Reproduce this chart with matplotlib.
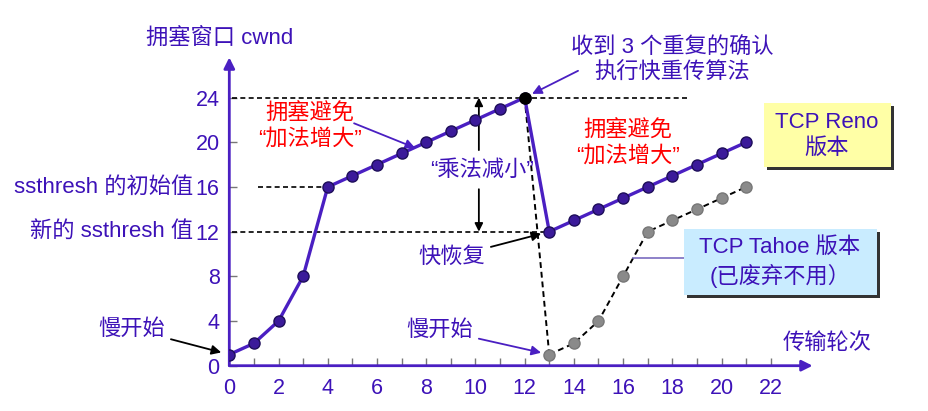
import matplotlib
matplotlib.use('Agg')
import matplotlib.pyplot as plt
from matplotlib.patches import Rectangle

plt.rcParams['font.family'] = ['Liberation Sans', 'Noto Sans CJK SC', 'DejaVu Sans']

# data
reno_x = [0, 1, 2, 3, 4, 5, 6, 7, 8, 9, 10, 11, 12, 13, 14, 15, 16, 17, 18, 19, 20, 21]
reno_y = [1, 2, 4, 8, 16, 17, 18, 19, 20, 21, 22, 23, 24, 12, 13, 14, 15, 16, 17, 18, 19, 20]
tahoe_x = [13, 14, 15, 16, 17, 18, 19, 20, 21]
tahoe_y = [1, 2, 4, 8, 12, 13, 14, 15, 16]
drop_x = [12, 13]
drop_y = [24, 1]
xticks_major = [0, 2, 4, 6, 8, 10, 12, 14, 16, 18, 20, 22]
xticks_minor = [1, 3, 5, 7, 9, 11, 13, 15, 17, 19, 21]
yticks = [0, 4, 8, 12, 16, 20, 24]
ssthresh_init = 16
ssthresh_new = 12
peak = 24

PURPLE = '#3d12b8'
LINE = '#4a1fc2'
MFACE = '#3b1a9a'
RED = '#ff0000'

fig = plt.figure(figsize=(9.29, 4.11), dpi=100)
ax = fig.add_axes([229.3 / 929, 45.3 / 411, 583.3 / 929, 308.3 / 411])
ax.set_xlim(0, 23.7)
ax.set_ylim(0, 27.6)
for s in ax.spines.values():
    s.set_visible(False)

# axes with arrows
ax.annotate('', xy=(23.7, 0), xytext=(0, 0),
            arrowprops=dict(arrowstyle='-|>', color=LINE, lw=2, mutation_scale=16, shrinkA=0, shrinkB=0),
            annotation_clip=False)
ax.annotate('', xy=(0, 27.6), xytext=(0, 0),
            arrowprops=dict(arrowstyle='-|>', color=LINE, lw=2, mutation_scale=16, shrinkA=0, shrinkB=0),
            annotation_clip=False)

ax.set_xticks(xticks_major)
ax.set_xticks(xticks_minor, minor=True)
ax.set_yticks(yticks)
ax.tick_params(axis='both', which='both', direction='in', color='#777777', length=6, width=1)
ax.tick_params(axis='x', which='major', labelsize=15.5, labelcolor=PURPLE, pad=9)
ax.tick_params(axis='y', which='major', labelsize=15.5, labelcolor=PURPLE, pad=7)

# dashed guide lines
ax.plot([0.1, 18.6], [peak, peak], color='black', ls=(0, (3, 2)), lw=1.2, zorder=2)
ax.plot([1.17, 4], [ssthresh_init, ssthresh_init], color='black', ls=(0, (3, 2)), lw=1.2, zorder=2)
ax.plot([0.1, 13], [ssthresh_new, ssthresh_new], color='black', ls=(0, (3, 2)), lw=1.2, zorder=2)

# Tahoe
ax.plot(drop_x, drop_y, color='black', ls=(0, (3, 2)), lw=1.4, zorder=3)
ax.plot(tahoe_x, tahoe_y, color='black', ls=(0, (3, 2)), lw=1.4, zorder=3,
        marker='o', ms=8, mfc='#8a8a8a', mec='#777777')

# Reno
ax.plot(reno_x, reno_y, color=LINE, lw=2.4, zorder=4,
        marker='o', ms=8, mfc=MFACE, mec='#1e0e5a', mew=1)
ax.plot([reno_x[12]], [reno_y[12]], 'o', ms=8, color='black', zorder=5)

# labels
ax.text(-0.38, 29.33, '拥塞窗口 cwnd', color=PURPLE, fontsize=16, ha='center', va='center', clip_on=False)
ax.text(24.28, 2.03, '传输轮次', color=PURPLE, fontsize=16, ha='center', va='center', clip_on=False)
ax.text(-1.45, ssthresh_init, 'ssthresh 的初始值', color=PURPLE, fontsize=16, ha='right', va='center', clip_on=False)
ax.text(-1.45, ssthresh_new, '新的 ssthresh 值', color=PURPLE, fontsize=16, ha='right', va='center', clip_on=False)

# annotations
ax.annotate('慢开始', xy=(0, 1), xytext=(-3.95, 3.28), color=PURPLE, fontsize=16,
            ha='center', va='center', annotation_clip=False,
            arrowprops=dict(arrowstyle='-|>', color='black', lw=1.3, mutation_scale=14, shrinkA=2, shrinkB=6))
ax.text(3.28, 21.4, '拥塞避免\n“加法增大”', color=RED, fontsize=16, ha='center', va='center',
        linespacing=1.25)
ax.annotate('', xy=(7.55, 19.5), xytext=(5.07, 21.7),
            arrowprops=dict(arrowstyle='-|>', color=LINE, lw=1.3, mutation_scale=14, shrinkA=0, shrinkB=0))
ax.text(10.27, 17.5, '“乘法减小”', color=PURPLE, fontsize=16, ha='center', va='center')
ax.annotate('', xy=(10.14, peak), xytext=(10.14, 19.3),
            arrowprops=dict(arrowstyle='-|>', color='black', lw=1.3, mutation_scale=12, shrinkA=0, shrinkB=0))
ax.annotate('', xy=(10.14, ssthresh_new), xytext=(10.14, 15.8),
            arrowprops=dict(arrowstyle='-|>', color='black', lw=1.3, mutation_scale=12, shrinkA=0, shrinkB=0))
ax.text(17.98, 27.3, '收到 3 个重复的确认\n执行快重传算法', color=PURPLE, fontsize=16,
        ha='center', va='center', linespacing=1.3, clip_on=False)
ax.annotate('', xy=(12, 24), xytext=(14.17, 26.4), annotation_clip=False,
            arrowprops=dict(arrowstyle='-|>', color=LINE, lw=1.3, mutation_scale=14, shrinkA=0, shrinkB=6))
ax.text(16.2, 19.9, '拥塞避免\n“加法增大”', color=RED, fontsize=16, ha='center', va='center',
        linespacing=1.25)
ax.annotate('快恢复', xy=(13, 12), xytext=(9.05, 9.73), color=PURPLE, fontsize=16,
            ha='center', va='center',
            arrowprops=dict(arrowstyle='-|>', color='black', lw=1.3, mutation_scale=14, shrinkA=2, shrinkB=6))
ax.annotate('慢开始', xy=(13, 1), xytext=(8.56, 3.2), color=PURPLE, fontsize=16,
            ha='center', va='center',
            arrowprops=dict(arrowstyle='-|>', color=LINE, lw=1.3, mutation_scale=14, shrinkA=2, shrinkB=6))

# legend-like boxes
dx, dy = 0.13, 0.3
ax.add_patch(Rectangle((21.73 + dx, 17.82 - dy), 26.89 - 21.73, 23.55 - 17.82,
                       facecolor='#333333', edgecolor='none', clip_on=False, zorder=6))
ax.add_patch(Rectangle((21.73, 17.82), 26.89 - 21.73, 23.55 - 17.82,
                       facecolor='#ffffa6', edgecolor='none', clip_on=False, zorder=7))
ax.text(24.28, 20.6, 'TCP Reno\n版本', color=PURPLE, fontsize=16, ha='center', va='center',
        linespacing=1.3, zorder=8, clip_on=False)

ax.add_patch(Rectangle((18.48 + dx, 6.33 - dy), 26.32 - 18.48, 12.24 - 6.33,
                       facecolor='#333333', edgecolor='none', clip_on=False, zorder=6))
ax.add_patch(Rectangle((18.48, 6.33), 26.32 - 18.48, 12.24 - 6.33,
                       facecolor='#c9ecff', edgecolor='none', clip_on=False, zorder=7))
ax.text(22.37, 9.25, 'TCP Tahoe 版本\n(已废弃不用）', color=PURPLE, fontsize=16, ha='center', va='center',
        linespacing=1.3, zorder=8, clip_on=False)
ax.plot([16.4, 18.48], [9.6, 9.6], color='#7a6cc0', lw=1.2, zorder=5)

fig.savefig('out.png', dpi=100)
